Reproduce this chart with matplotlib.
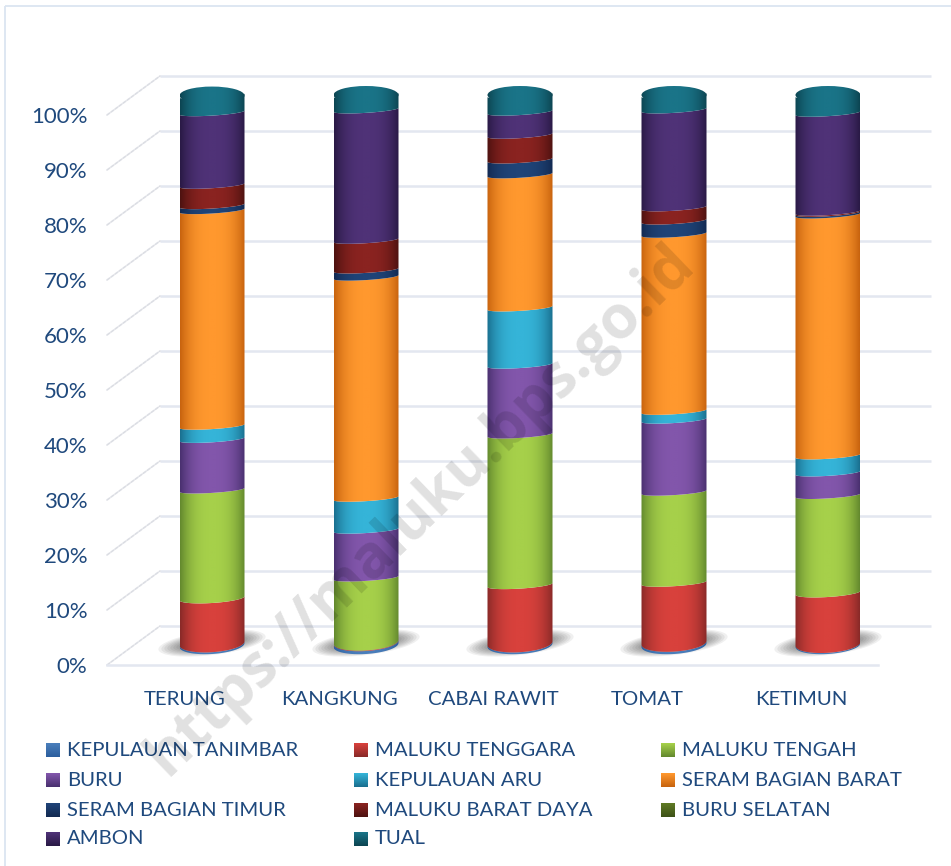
import numpy as np
import matplotlib
matplotlib.use("Agg")
import matplotlib.pyplot as plt
from matplotlib.patches import Ellipse, PathPatch, Rectangle
from matplotlib.path import Path
from matplotlib.colors import LinearSegmentedColormap
from matplotlib.transforms import Affine2D, IdentityTransform

categories = ["TERUNG", "KANGKUNG", "CABAI RAWIT", "TOMAT", "KETIMUN"]
yticks = [0, 10, 20, 30, 40, 50, 60, 70, 80, 90, 100]

series_names = ["KEPULAUAN TANIMBAR", "MALUKU TENGGARA", "MALUKU TENGAH", "BURU",
                "KEPULAUAN ARU", "SERAM BAGIAN BARAT", "SERAM BAGIAN TIMUR",
                "MALUKU BARAT DAYA", "BURU SELATAN", "AMBON", "TUAL"]

kep_tanimbar = [0.3, 0.5, 0.3, 0.4, 0.2]
maluku_tenggara = [8.2, 0.1, 10.6, 10.9, 9.3]
maluku_tengah = [19.7, 11.6, 27.3, 16.5, 17.7]
buru = [9.2, 8.7, 12.7, 13.1, 4.1]
kep_aru = [2.4, 5.8, 10.4, 1.6, 3.1]
seram_barat = [39.2, 40.2, 24.2, 32.2, 43.8]
seram_timur = [0.9, 1.3, 2.7, 2.4, 0.3]
maluku_barat_daya = [3.7, 5.4, 4.5, 2.4, 0.2]
buru_selatan = [0.0, 0.0, 0.0, 0.0, 0.0]
ambon = [13.2, 23.7, 4.2, 17.8, 18.0]
tual = [3.1, 2.7, 3.1, 2.7, 3.3]

values = [kep_tanimbar, maluku_tenggara, maluku_tengah, buru, kep_aru, seram_barat,
          seram_timur, maluku_barat_daya, buru_selatan, ambon, tual]

# light / dark of each series, as in the legend swatches
light = ["#4a7ebb", "#d8413c", "#a6d04a", "#8256ab", "#35b4d8", "#ff982e",
         "#1f4478", "#8a2320", "#5f7a24", "#4f3277", "#1a7488"]
dark = ["#2c5f9e", "#8a2a28", "#648a2e", "#4a3170", "#1a7090", "#c8640f",
        "#132a52", "#4e1210", "#3e5218", "#2a1a46", "#0c4552"]

text_col = "#1f497d"
grid_col = "#e3e7f0"
plt.rcParams["font.family"] = ["Lato", "DejaVu Sans"]

W, H = 951, 866
fig = plt.figure(figsize=(W / 100, H / 100), dpi=100)

# background axes in pixels for frame and legend
bg = fig.add_axes([0, 0, 1, 1])
bg.set_xlim(0, W)
bg.set_ylim(H, 0)
bg.axis("off")
bg.add_patch(Rectangle((5, 6), W + 20, H + 20, fill=False, ec="#dbe5f1", lw=1.3))

# front plane of the chart: 0% at y=665 and 100% at y=115, first category x=185
x0_px, x1_px = 107, 878
ax = fig.add_axes([x0_px / W, 1 - 665 / H, (x1_px - x0_px) / W, 550 / H])
ax.set_xlim((x0_px - 185) / 154, (x1_px - 185) / 154)
ax.set_ylim(0, 100)
ax.patch.set_alpha(0)
for s in ax.spines.values():
    s.set_visible(False)
ax.set_xticks(range(len(categories)))
ax.set_xticklabels(categories, fontsize=14.7, color=text_col)
ax.set_yticks(yticks)
ax.set_yticklabels([str(v) + "%" for v in yticks], fontsize=16, color=text_col)
ax.tick_params(length=0, axis="x", pad=18.5)
ax.tick_params(length=0, axis="y", pad=14)

# depth shifts are in display pixels, added after the data transform
back_data = ax.transData + Affine2D().translate(53, 39)
mid_data = ax.transData + Affine2D().translate(27, 20)

left, right = ax.get_xlim()
for v in yticks:
    ax.plot([left, right], [v, v], transform=back_data, color=grid_col, lw=1.8,
            solid_capstyle="butt", zorder=1, clip_on=False)
    # side wall, from front plane to back plane
    ax.annotate("", xy=(left, v), xycoords=back_data, xytext=(left, v), textcoords=ax.transData,
                arrowprops=dict(arrowstyle="-", color="#dcdee4", lw=1.2, linestyle=(0, (2, 1)),
                                shrinkA=0, shrinkB=0),
                zorder=1)
ax.plot([left, right], [0, 0], color=grid_col, lw=1.8, zorder=1, clip_on=False)

grad = np.abs(np.linspace(-1, 1, 64)) ** 2.6
half_w = 32.5 / 154
amp_end = 9 / 5.5
px = 1 / 5.5
tilt = 2.0 * px


def amp_at(y):
    # arcs are deep near the floor, shallow higher up
    return (3 + 6 * max(0.0, 1 - y / 12)) * px


def arc(cx, y, reverse=False):
    # front half of an ellipse from left to right side of the column
    t = np.linspace(np.pi, 2 * np.pi, 40)
    xs = cx + half_w * np.cos(t)
    ys = y + amp_at(y) * np.sin(t) + tilt * np.cos(t)
    pts = np.column_stack([xs, ys])
    return pts[::-1] if reverse else pts


def gradient_fill(cx, ymin, ymax, col_l, col_d, clip):
    cmap = LinearSegmentedColormap.from_list("c", [col_l, col_d])
    im = ax.imshow(grad[np.newaxis, :], cmap=cmap, vmin=0, vmax=1, aspect="auto",
                   extent=[cx - half_w, cx + half_w, ymin, ymax], zorder=3,
                   transform=mid_data, interpolation="bilinear")
    im.set_clip_path(clip)
    # the column top sits above the axes box, so clip to the figure instead
    im.set_clip_box(fig.bbox)


for i in range(len(categories)):
    # shadow on the floor, slightly rotated like the column base
    cx_px, cy_px = mid_data.transform((i, 0))
    for k in range(10):
        sh = Ellipse((cx_px, cy_px + 2), 108 - 6 * k, 24 - 1.8 * k, angle=7,
                     transform=IdentityTransform(), fc="black", ec="none", alpha=0.06,
                     zorder=2, clip_on=False)
        ax.add_patch(sh)

    bottom = 0.0
    for j in range(len(series_names)):
        val = values[j][i]
        if val <= 0:
            continue
        top = bottom + val
        lo = arc(i, bottom)
        hi = arc(i, top, reverse=True)
        verts = np.vstack([lo, hi, lo[:1]])
        poly = PathPatch(Path(verts), transform=mid_data, fc="none", ec="none")
        ax.add_patch(poly)
        gradient_fill(i, bottom - 5, top + 5, light[j], dark[j], poly)
        bottom = top
    # lid of the column
    lid = Ellipse((i, bottom), 2 * half_w, 2 * amp_end, transform=mid_data, fc="none", ec="none")
    ax.add_patch(lid)
    gradient_fill(i, bottom - 5, bottom + 5, light[-1], dark[-1], lid)

ax.set_xlim(left, right)
ax.set_ylim(0, 100)

# legend laid out on three columns as in the original
leg_x = [47, 355, 662]
leg_y = [750, 780, 810, 839]
for n, name in enumerate(series_names):
    lx = leg_x[n % 3]
    ly = leg_y[n // 3]
    cmap = LinearSegmentedColormap.from_list("s", [light[n], dark[n]])
    bg.imshow(np.linspace(0, 1, 16)[:, np.newaxis], cmap=cmap, aspect="auto",
              extent=[lx - 1, lx + 13, ly + 7, ly - 7])
    bg.text(lx + 20, ly, name, fontsize=14.6, color=text_col, va="center", ha="left")
bg.set_xlim(0, W)
bg.set_ylim(H, 0)

# watermark
fig.text(0.442, 0.411, "https://maluku.bps.go.id", fontsize=43, fontweight="bold", color="#000000",
         alpha=0.12, rotation=44, ha="center", va="center", family=["Open Sans", "DejaVu Sans"])

fig.savefig("out.png", dpi=100)
